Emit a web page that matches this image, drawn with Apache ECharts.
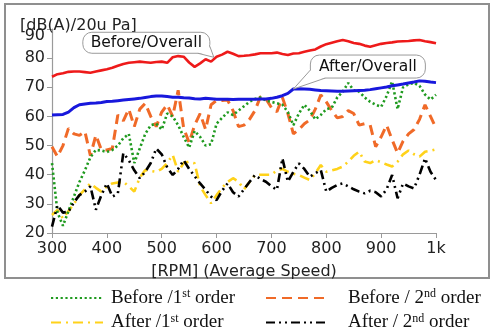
<!DOCTYPE html>
<html>
<head>
<meta charset="utf-8">
<script src="https://cdn.jsdelivr.net/npm/echarts@6/dist/echarts.min.js"></script>
<style>
  html, body { margin: 0; padding: 0; background: #fff; }
  #chart { width: 496px; height: 333px; }
</style>
</head>
<body>
<div id="chart"></div>
<script>
// Engine speed grid (RPM)
const rpm = [300, 310, 320, 330, 340, 350, 360, 370, 380, 390,
             400, 410, 420, 430, 440, 450, 460, 470, 480, 490,
             500, 510, 520, 530, 540, 550, 560, 570, 580, 590,
             600, 610, 620, 630, 640, 650, 660, 670, 680, 690,
             700, 710, 720, 730, 740, 750, 760, 770, 780, 790,
             800, 810, 820, 830, 840, 850, 860, 870, 880, 890,
             900, 910, 920, 930, 940, 950, 960, 970, 980, 990, 1000];

// Sound pressure levels, dB(A)
const beforeOverall = [73.6, 74.5, 74.8, 75.3, 75.4, 75.4, 75.2, 75.0, 75.4, 75.8,
                       76.2, 76.7, 77.4, 78.0, 78.4, 78.6, 78.8, 78.6, 78.4, 78.7,
                       78.8, 78.4, 80.3, 80.7, 80.5, 78.5, 77.0, 78.2, 79.6, 78.8,
                       80.5, 81.2, 82.2, 81.5, 80.7, 80.8, 81.0, 81.3, 81.7, 81.7,
                       81.7, 81.9, 81.4, 81.1, 81.6, 81.7, 82.2, 82.6, 83.0, 84.0,
                       84.8, 85.3, 85.8, 86.2, 85.8, 85.2, 84.9, 84.3, 83.9, 84.4,
                       84.9, 85.2, 85.4, 85.7, 85.8, 85.9, 86.1, 86.2, 85.8, 85.5, 85.1];

const afterOverall = [60.5, 60.6, 60.7, 61.5, 63.0, 64.0, 64.3, 64.5, 64.6, 64.8,
                      65.1, 65.2, 65.4, 65.6, 65.8, 66.0, 66.2, 66.5, 66.8, 67.0,
                      67.0, 66.8, 66.6, 66.6, 66.4, 66.3, 66.1, 66.0, 66.2, 66.1,
                      65.9, 65.9, 65.9, 65.8, 65.9, 65.9, 65.9, 65.9, 66.0, 66.0,
                      66.2, 66.6, 67.1, 67.9, 69.4, 69.5, 69.4, 69.3, 69.1, 68.9,
                      68.8, 68.7, 68.6, 68.6, 68.7, 68.8, 68.9, 69.0, 69.2, 69.5,
                      69.8, 70.1, 70.5, 70.8, 71.1, 71.5, 71.8, 72.2, 72.1, 71.8, 71.6];

const before1st = [44.0, 27.0, 22.5, 27.5, 32.5, 37.5, 41.5, 46.0, 48.5, 48.3,
                   47.8, 48.5, 50.0, 52.5, 54.0, 44.0, 49.0, 54.0, 57.0, 57.5,
                   55.5, 61.0, 60.0, 57.0, 53.0, 49.3, 55.0, 53.0, 50.0, 50.5,
                   57.5, 59.5, 61.4, 60.5, 62.0, 63.5, 65.0, 66.0, 66.5, 65.5,
                   65.0, 64.5, 64.0, 61.5, 57.0, 61.0, 64.0, 62.0, 59.0, 60.5,
                   62.5, 63.0, 66.5, 68.5, 71.5, 69.0, 68.5, 66.5, 65.0, 64.0,
                   63.3, 67.0, 72.0, 62.5, 70.0, 71.0, 71.5, 70.5, 67.5, 65.8, 67.4];

const before2nd = [49.6, 46.2, 50.0, 55.9, 54.0, 53.5, 54.8, 46.5, 53.6, 48.5,
                   48.5, 49.0, 60.5, 58.5, 62.5, 56.5, 62.5, 64.5, 60.0, 56.5,
                   61.5, 64.0, 60.0, 69.0, 56.0, 51.0, 57.0, 61.0, 55.5, 64.0,
                   65.5, 65.5, 65.6, 62.0, 56.5, 57.0, 59.0, 62.0, 66.8, 66.0,
                   63.0, 61.6, 66.5, 61.0, 54.0, 55.5, 57.5, 58.8, 62.5, 67.4,
                   65.0, 62.0, 59.5, 60.0, 62.0, 61.0, 57.0, 57.5, 57.0, 49.6,
                   53.0, 57.0, 52.0, 47.4, 51.5, 54.0, 55.5, 59.0, 64.0, 60.0, 56.0];

const after1st = [26.2, 27.9, 25.0, 27.5, 30.0, 33.0, 35.0, 37.0, 35.5, 34.2,
                  36.0, 37.0, 37.3, 37.6, 36.0, 34.2, 39.0, 41.6, 41.3, 41.0,
                  42.0, 44.0, 46.8, 41.0, 44.0, 44.5, 43.9, 36.0, 33.0, 30.2,
                  33.0, 35.5, 37.5, 38.8, 37.6, 35.0, 37.5, 39.9, 40.0, 40.0,
                  40.0, 41.5, 42.0, 41.0, 40.3, 39.9, 39.0, 38.2, 40.5, 43.3,
                  41.0, 41.5, 42.0, 42.8, 44.5, 46.5, 47.9, 44.5, 44.0, 45.0,
                  44.3, 43.5, 42.8, 44.5, 47.0, 48.3, 47.0, 46.2, 47.9, 48.2, 48.7];

const after2nd = [22.2, 29.5, 27.0, 27.3, 30.5, 33.0, 34.2, 36.0, 28.0, 33.0,
                  37.0, 32.5, 33.5, 47.4, 45.0, 41.5, 38.8, 41.0, 44.0, 49.0,
                  47.0, 42.5, 39.9, 42.0, 45.0, 42.0, 39.5, 37.0, 34.8, 32.5,
                  31.3, 34.5, 37.0, 34.0, 32.5, 35.0, 37.5, 39.9, 38.5, 37.6,
                  36.0, 34.8, 45.6, 37.6, 41.0, 43.9, 42.0, 39.3, 40.5, 41.6,
                  34.2, 35.5, 36.5, 37.0, 36.0, 35.0, 34.2, 33.6, 34.5, 34.0,
                  32.5, 35.0, 39.9, 31.9, 37.0, 36.0, 35.3, 40.0, 45.6, 41.0, 38.2];

// Axis ticks
const xTicks = [300, 400, 500, 600, 700, 800, 900, 1000];
const xTickLabels = ['300', '400', '500', '600', '700', '800', '900', '1k'];
const yTicks = [20, 30, 40, 50, 60, 70, 80, 90];

// Callout anchors on the overall curves [rpm, dB]
const beforeCallout = [595, 80.3];
const afterCallout = [740, 69.4];

const sans = 'DejaVu Sans';
const serif = 'Liberation Serif';

const chart = echarts.init(document.getElementById('chart'), null, { renderer: 'canvas' });

const pairs = (ys) => rpm.map((x, i) => [x, ys[i]]);

const legendText = {
  b1: '{m|Before /1}{s|st}{m| order}',
  a1: '{m|After /1}{s|st}{m| order}',
  b2: '{m|Before / 2}{s|nd}{m| order}',
  a2: '{m|After / 2}{s|nd}{m| order}'
};

const legendRich = {
  m: { fontFamily: serif, fontSize: 19, lineHeight: 20, color: '#111' },
  s: { fontFamily: serif, fontSize: 12, lineHeight: 12, verticalAlign: 'top', color: '#111' }
};

const hiddenSymbol = { color: 'rgba(0,0,0,0)', borderWidth: 0, opacity: 0 };

function lineSeries(name, ys, color, width, type, z) {
  return {
    name: name,
    type: 'line',
    data: pairs(ys),
    symbol: 'none',
    smooth: false,
    z: z,
    lineStyle: { color: color, width: width, type: type },
    itemStyle: { color: color },
    emphasis: { disabled: true },
    animation: false
  };
}

chart.setOption({
  animation: false,
  title: {
    text: '[dB(A)/20u Pa]',
    left: 15,
    top: 13,
    textStyle: { fontFamily: sans, fontSize: 16, fontWeight: 'normal', color: '#222' }
  },
  grid: { left: 52, top: 29, width: 384, height: 204 },
  xAxis: {
    type: 'value',
    min: xTicks[0],
    max: xTicks[xTicks.length - 1],
    interval: 100,
    name: '[RPM] (Average Speed)',
    nameLocation: 'middle',
    nameGap: 31,
    nameTextStyle: { fontFamily: sans, fontSize: 16, color: '#222' },
    axisLine: { lineStyle: { color: '#9a9a9a', width: 1.2 } },
    axisTick: { show: true, length: 5, lineStyle: { color: '#9a9a9a' } },
    splitLine: { show: false },
    axisLabel: {
      fontFamily: sans, fontSize: 16, color: '#222', margin: 8,
      formatter: (v) => xTickLabels[xTicks.indexOf(v)] || ''
    }
  },
  yAxis: {
    type: 'value',
    min: yTicks[0],
    max: yTicks[yTicks.length - 1],
    interval: 10,
    axisLine: { show: true, lineStyle: { color: '#9a9a9a', width: 1.2 } },
    axisTick: { show: true, length: 5, lineStyle: { color: '#9a9a9a' } },
    splitLine: { show: false },
    axisLabel: {
      fontFamily: sans, fontSize: 16, color: '#222', margin: 7,
      formatter: (v) => v === yTicks[yTicks.length - 1] ? '{t|' + v + '}' : String(v),
      rich: { t: { fontFamily: sans, fontSize: 16, color: '#222', padding: [14, 0, 0, 0] } }
    }
  },
  legend: [
    {
      data: ['b1', 'a1'],
      left: 45, top: 283, height: 50,
      orient: 'vertical',
      itemWidth: 52, itemHeight: 12, itemGap: 5,
      formatter: (n) => legendText[n],
      textStyle: { rich: legendRich, padding: [0, 0, 0, 3] },
      itemStyle: hiddenSymbol,
      selectedMode: false
    },
    {
      data: ['b2', 'a2'],
      left: 260, top: 283, height: 50,
      orient: 'vertical',
      itemWidth: 62, itemHeight: 12, itemGap: 5,
      formatter: (n) => legendText[n],
      textStyle: { rich: legendRich, padding: [0, 0, 0, 15] },
      itemStyle: hiddenSymbol,
      selectedMode: false
    }
  ],
  series: [
    lineSeries('b2', before2nd, '#F06A28', 3, [10, 6], 3),
    lineSeries('b1', before1st, '#1F9A1F', 2.6, [2.2, 2.6], 4),
    lineSeries('a1', after1st, '#FFD21A', 2.6, [10, 5, 2, 5], 3),
    lineSeries('a2', after2nd, '#000000', 2.6, [9, 4, 2, 4, 2, 4], 4),
    lineSeries('beforeOverall', beforeOverall, '#EE1A1A', 2.6, 'solid', 5),
    lineSeries('afterOverall', afterOverall, '#1818DC', 3, 'solid', 5)
  ]
});

// Speech-bubble callouts, built from a rounded box plus a pointed tail
const pb = chart.convertToPixel({ gridIndex: 0 }, beforeCallout);
const pa = chart.convertToPixel({ gridIndex: 0 }, afterCallout);

const bBox = { L: pb[0] - 131, T: pb[1] - 25, R: pb[0] - 4, B: pb[1] - 4 };
const aBox = { L: pa[0] + 17, T: pa[1] - 34, R: pa[0] + 132, B: pa[1] - 11 };

const edge = '#9a9a9a';
const bubbleText = { fontFamily: sans, fontSize: 15.5, fill: '#111', align: 'center', verticalAlign: 'middle' };

function bubble(box, label, tip, tailA, tailB) {
  return [
    {
      type: 'rect', z: 20, silent: true,
      shape: { x: box.L, y: box.T, width: box.R - box.L, height: box.B - box.T, r: 9 },
      style: { fill: '#fff', stroke: edge, lineWidth: 1 }
    },
    {
      type: 'polygon', z: 21, silent: true,
      shape: { points: [tailA.inner, tip, tailB.inner] },
      style: { fill: '#fff', stroke: null }
    },
    {
      type: 'polyline', z: 22, silent: true,
      shape: { points: [tailA.outer, tip, tailB.outer] },
      style: { fill: null, stroke: edge, lineWidth: 1 }
    },
    {
      type: 'text', z: 23, silent: true,
      x: (box.L + box.R) / 2, y: (box.T + box.B) / 2 + 0.5,
      style: Object.assign({ text: label }, bubbleText)
    }
  ];
}

const beforeBubble = bubble(bBox, 'Before/Overall', pb,
  { outer: [bBox.R - 12, bBox.B], inner: [bBox.R - 12.5, bBox.B - 0.9] },
  { outer: [bBox.R, bBox.B - 7], inner: [bBox.R - 0.9, bBox.B - 7.5] });

const afterBubble = bubble(aBox, 'After/Overall', pa,
  { outer: [aBox.L + 15, aBox.B], inner: [aBox.L + 15.5, aBox.B - 0.9] },
  { outer: [aBox.L, aBox.B - 8], inner: [aBox.L + 0.9, aBox.B - 8.5] });

chart.setOption({
  graphic: [
    {
      type: 'rect', z: -10, silent: true,
      shape: { x: 5, y: 4, width: 484, height: 274 },
      style: { fill: 'none', stroke: '#8f8f8f', lineWidth: 2 }
    }
  ].concat(beforeBubble, afterBubble)
});
</script>
</body>
</html>
